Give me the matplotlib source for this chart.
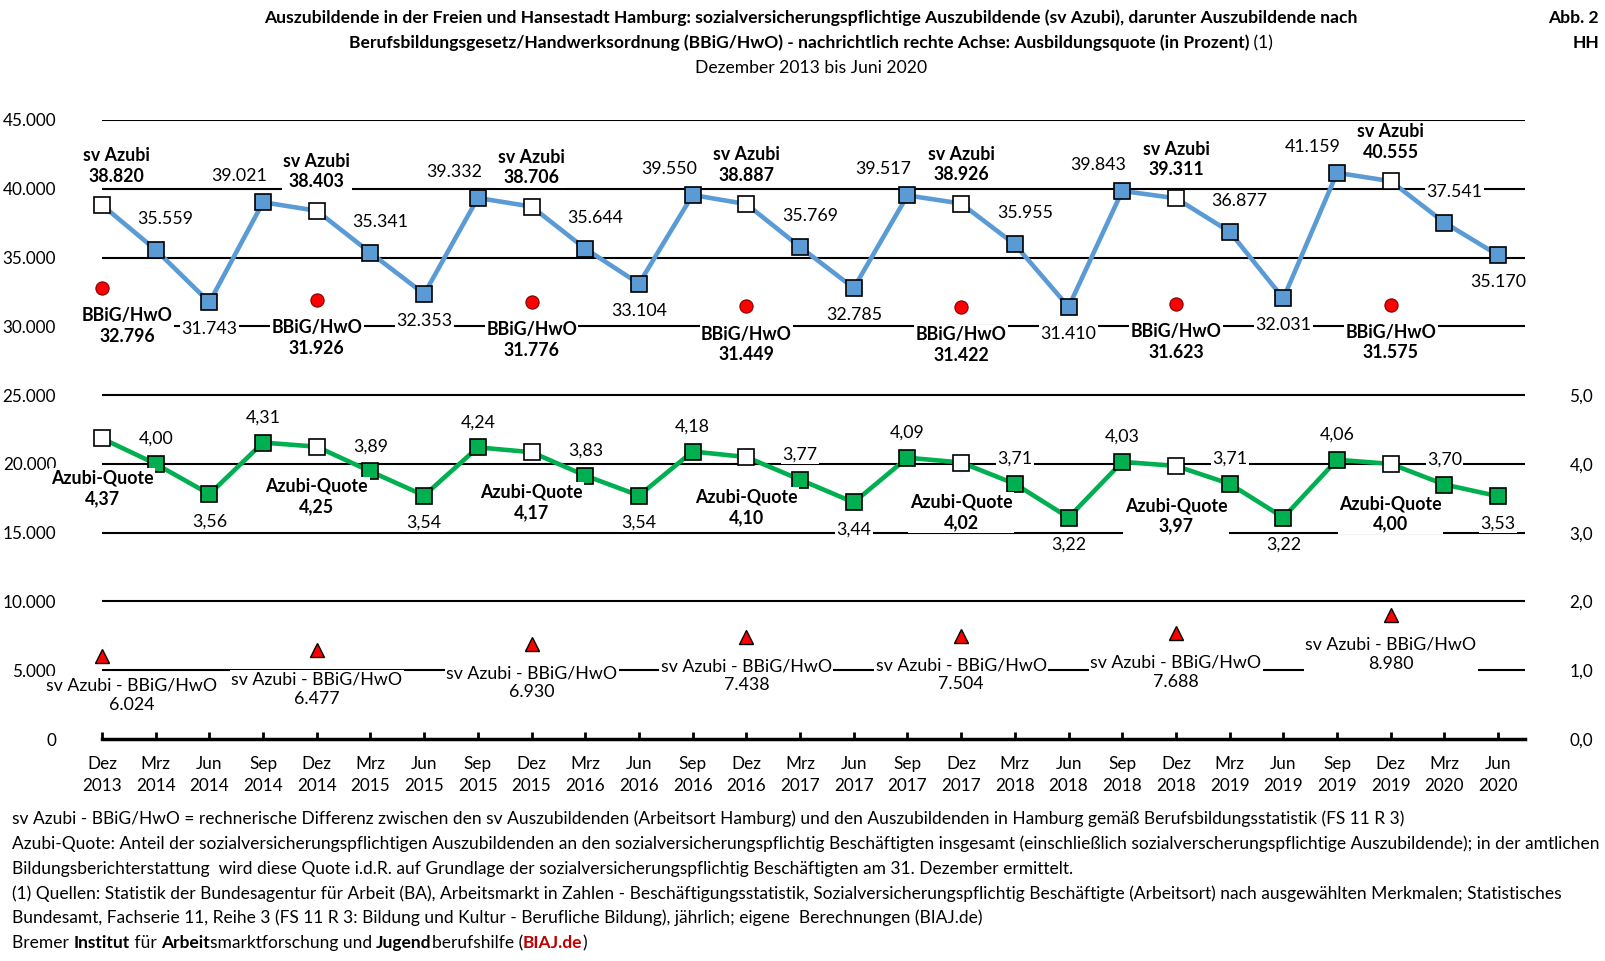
import numpy as np
import matplotlib.pyplot as plt

plt.rcParams['font.family'] = ['Lato', 'DejaVu Sans']

# categories (quarter ends)
months = ['Dez', 'Mrz', 'Jun', 'Sep'] * 6 + ['Dez', 'Mrz', 'Jun']
years = ['2013', '2014', '2014', '2014', '2014', '2015', '2015', '2015', '2015',
         '2016', '2016', '2016', '2016', '2017', '2017', '2017', '2017',
         '2018', '2018', '2018', '2018', '2019', '2019', '2019', '2019',
         '2020', '2020']

# sozialversicherungspflichtige Auszubildende
sv_azubi = [38820, 35559, 31743, 39021, 38403, 35341, 32353, 39332, 38706,
            35644, 33104, 39550, 38887, 35769, 32785, 39517, 38926, 35955,
            31410, 39843, 39311, 36877, 32031, 41159, 40555, 37541, 35170]

# Ausbildungsquote in Prozent (rechte Achse)
quote = [4.37, 4.00, 3.56, 4.31, 4.25, 3.89, 3.54, 4.24, 4.17, 3.83, 3.54,
         4.18, 4.10, 3.77, 3.44, 4.09, 4.02, 3.71, 3.22, 4.03, 3.97, 3.71,
         3.22, 4.06, 4.00, 3.70, 3.53]

# nur Dezember: BBiG/HwO und Differenz
dez_idx = [0, 4, 8, 12, 16, 20, 24]
bbig = [32796, 31926, 31776, 31449, 31422, 31623, 31575]
diff = [6024, 6477, 6930, 7438, 7504, 7688, 8980]

BLUE = '#5B9BD5'
GREEN = '#00B050'
W, H = 1605, 961
FS = 12.3   # tick labels
LS = 12.8   # data labels


def de_int(v):
    return f'{v:,}'.replace(',', '.')


def de_dec(v, n=2):
    return f'{v:.{n}f}'.replace('.', ',')


fig = plt.figure(figsize=(W / 100, H / 100), dpi=100)
ax = fig.add_axes([102 / W, 1 - 739 / H, (1525 - 102) / W, (739 - 120) / H])
x = np.arange(len(sv_azubi))

ax.set_xlim(0, 26.5)
ax.set_ylim(0, 45000)
for s in ['top', 'left', 'right']:
    ax.spines[s].set_visible(False)
ax.spines['bottom'].set_linewidth(2.5)
ax.spines['bottom'].set_zorder(5)

yt = np.arange(0, 45001, 5000)
ax.set_yticks(yt)
ax.set_yticklabels([de_int(v) for v in yt], fontsize=FS)
ax.tick_params(axis='y', length=0, pad=33)
for v in yt[1:]:
    ax.axhline(v, color='black', lw=1.5, zorder=1)

ax.set_xticks(x)
ax.set_xticklabels([f'{m}\n{y}' for m, y in zip(months, years)], fontsize=FS,
                   linespacing=1.45)
ax.tick_params(axis='x', direction='in', length=5, width=2, pad=12)

ax2 = ax.twinx()
ax2.set_ylim(0, 9)
for s in ['top', 'left', 'right', 'bottom']:
    ax2.spines[s].set_visible(False)
ax2.set_yticks(np.arange(0, 6))
ax2.set_yticklabels([de_dec(v, 1) for v in range(6)], fontsize=FS)
ax2.tick_params(axis='y', length=0, pad=32)

box = dict(fc='white', ec='none', pad=1)
mk = dict(ls='none', marker='s', ms=11, mec='black', mew=1.2, zorder=4, clip_on=False)

# sv Azubi line
ax.plot(x, sv_azubi, color=BLUE, lw=3.3, zorder=3, clip_on=False)
other = [i for i in x if i not in dez_idx]
ax.plot(other, [sv_azubi[i] for i in other], mfc=BLUE, **mk)
ax.plot(dez_idx, [sv_azubi[i] for i in dez_idx], mfc='white', **mk)

# BBiG/HwO and difference markers
ax.plot(dez_idx, bbig, ls='none', marker='o', ms=9.5, mfc='red', mec='#7f0000',
        mew=0.8, zorder=4, clip_on=False)
ax.plot(dez_idx, diff, ls='none', marker='^', ms=10, mfc='red', mec='black',
        mew=1.0, zorder=4, clip_on=False)

# Quote line on right axis
ax2.plot(x, quote, color=GREEN, lw=3.3, zorder=3, clip_on=False)
ax2.plot(other, [quote[i] for i in other], mfc=GREEN, **mk)
ax2.plot(dez_idx, [quote[i] for i in dez_idx], mfc='white', **mk)


def label(a, xi, yv, txt, dx, dy, bold=False):
    a.annotate(txt, (xi, yv), xytext=(dx, dy), textcoords='offset pixels',
               ha='center', va='center', fontsize=LS, linespacing=1.25,
               fontweight='bold' if bold else 'normal', bbox=box, zorder=6)


for i, v in enumerate(sv_azubi):
    q = i % 4
    if q == 0:
        label(ax, i, v, f'sv Azubi\n{de_int(v)}', 14 if i == 0 else 0, 39, True)
    elif q == 1:
        label(ax, i, v, de_int(v), 10, 31)
    elif q == 2:
        label(ax, i, v, de_int(v), 0, -27)
    else:
        label(ax, i, v, de_int(v), -24, 26)

for k, i in enumerate(dez_idx):
    label(ax, i, bbig[k], f'BBiG/HwO\n{de_int(bbig[k])}', 25 if i == 0 else 0, -38, True)
    label(ax, i, diff[k], f'sv Azubi - BBiG/HwO\n{de_int(diff[k])}',
          30 if i == 0 else 0, -39)

for i, v in enumerate(quote):
    q = i % 4
    if q == 0:
        label(ax2, i, v, f'Azubi-Quote\n{de_dec(v)}', 0, -50, True)
    elif q == 2:
        label(ax2, i, v, de_dec(v), 0, -27)
    else:
        label(ax2, i, v, de_dec(v), 0, 25)

renderer = fig.canvas.get_renderer()


def rich_line(xp, yp, parts, size, center=False):
    texts = []
    for s, w, c in parts:
        t = fig.text(0, 1 - yp / H, s, fontsize=size, fontweight=w, color=c,
                     va='center', ha='left')
        texts.append(t)
    widths = [t.get_window_extent(renderer).width for t in texts]
    x0 = xp - sum(widths) / 2 if center else xp
    for t, w in zip(texts, widths):
        t.set_x(x0 / W)
        x0 += w


# title
TS = 12.6
rich_line(811, 18, [('Auszubildende in der Freien und Hansestadt Hamburg: '
                     'sozialversicherungspflichtige Auszubildende (sv Azubi), '
                     'darunter Auszubildende nach', 'bold', 'black')], TS, True)
rich_line(811, 43, [('Berufsbildungsgesetz/Handwerksordnung (BBiG/HwO) - nachrichtlich '
                     'rechte Achse: Ausbildungsquote (in Prozent)', 'bold', 'black'),
                    (' (1)', 'normal', 'black')], TS, True)
fig.text(811 / W, 1 - 68 / H, 'Dezember 2013 bis Juni 2020', fontsize=TS,
         ha='center', va='center')
fig.text(1599 / W, 1 - 18 / H, 'Abb. 2', fontsize=TS, fontweight='bold',
         ha='right', va='center')
fig.text(1599 / W, 1 - 43 / H, 'HH', fontsize=TS, fontweight='bold',
         ha='right', va='center')

# footnotes
notes = [
    'sv Azubi - BBiG/HwO = rechnerische Differenz zwischen den sv Auszubildenden '
    '(Arbeitsort Hamburg) und den Auszubildenden in Hamburg gemäß '
    'Berufsbildungsstatistik (FS 11 R 3)',
    'Azubi-Quote: Anteil der sozialversicherungspflichtigen Auszubildenden an den '
    'sozialversicherungspflichtig Beschäftigten insgesamt (einschließlich '
    'sozialverscherungspflichtige Auszubildende); in der amtlichen',
    'Bildungsberichterstattung  wird diese Quote i.d.R. auf Grundlage der '
    'sozialversicherungspflichtig Beschäftigten am 31. Dezember ermittelt.',
    '(1) Quellen: Statistik der Bundesagentur für Arbeit (BA), Arbeitsmarkt in Zahlen - '
    'Beschäftigungsstatistik, Sozialversicherungspflichtig Beschäftigte (Arbeitsort) '
    'nach ausgewählten Merkmalen; Statistisches',
    'Bundesamt, Fachserie 11, Reihe 3 (FS 11 R 3: Bildung und Kultur - Berufliche '
    'Bildung), jährlich; eigene  Berechnungen (BIAJ.de)',
]
NS = 12.5
for k, line in enumerate(notes):
    fig.text(12 / W, 1 - (819 + 24.8 * k) / H, line, fontsize=NS, va='center')

rich_line(12, 943, [('Bremer ', 'normal', 'black'), ('Institut', 'bold', 'black'),
                    (' für ', 'normal', 'black'), ('Arbeit', 'bold', 'black'),
                    ('smarktforschung und ', 'normal', 'black'),
                    ('Jugend', 'bold', 'black'), ('berufshilfe (', 'normal', 'black'),
                    ('BIAJ.de', 'bold', '#C00000'), (')', 'normal', 'black')], NS)

fig.savefig('out.png', dpi=100)
